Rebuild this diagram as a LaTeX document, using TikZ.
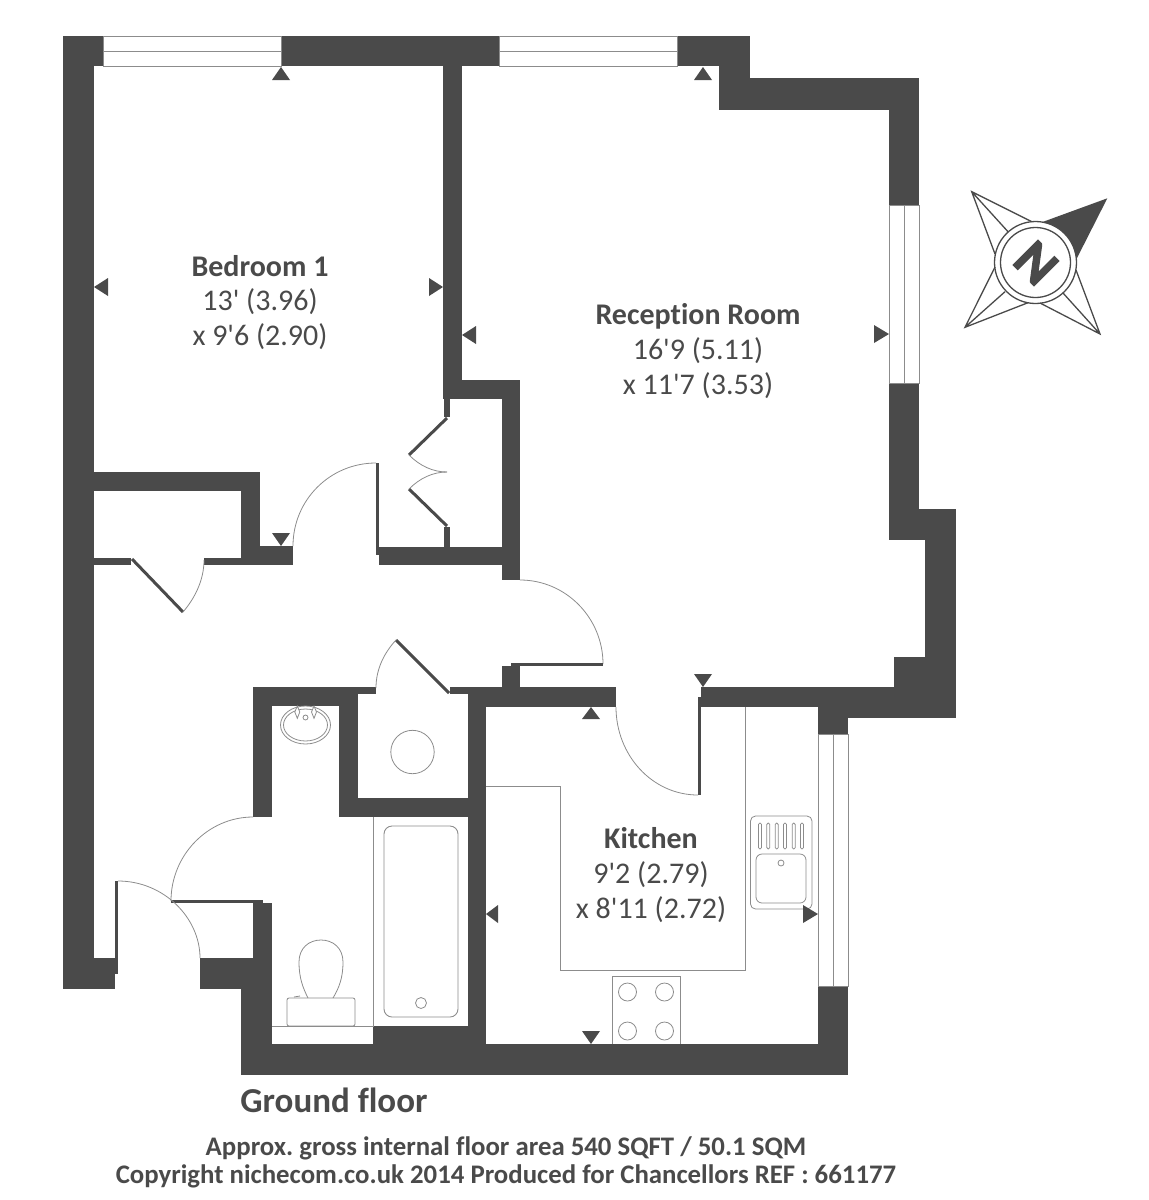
\documentclass[tikz,border=0pt]{standalone}
\usepackage{fontspec}
\newfontfamily\planfont[Ligatures=NoCommon,BoldFeatures={FakeBold=0}]{Carlito}
\newfontfamily\northfont[BoldFeatures={FakeBold=2.5}]{Carlito}
\frenchspacing
\definecolor{walldark}{HTML}{4A4A4A}
\definecolor{fitline}{HTML}{8C8C8C}
\begin{document}
\begin{tikzpicture}[x=1pt,y=-1pt]
\tikzstyle{every node}=[inner sep=0pt,text=walldark,font=\planfont,anchor=base]
\tikzstyle{wall}=[fill=walldark]
\tikzstyle{fit}=[draw=fitline,line width=0.9pt]
\tikzstyle{swing}=[draw=fitline,line width=0.8pt]
\tikzstyle{leaf}=[draw=walldark,line width=3pt]
\tikzstyle{compass}=[draw=walldark,line width=1.3pt]
\tikzstyle{roomname}=[font=\planfont\fontsize{30}{30}\selectfont\bfseries]
\tikzstyle{roomsize}=[font=\planfont\fontsize{30}{30}\selectfont]
\tikzstyle{foot}=[font=\planfont\fontsize{26.8}{26.8}\selectfont\bfseries]
\useasboundingbox (0,0) rectangle (1149,1200);
% outer walls
\fill[wall] (63,36) rectangle (94,989);
\fill[wall] (63,36) rectangle (103,66);
\fill[wall] (281,36) rectangle (499,66);
\fill[wall] (677,36) rectangle (750,66);
\fill[wall] (719,66) rectangle (750,110);
\fill[wall] (750,78) rectangle (919,110);
\fill[wall] (889,110) rectangle (919,205);
\fill[wall] (889,383) rectangle (919,540);
\fill[wall] (919,509) rectangle (956,540);
\fill[wall] (925,540) rectangle (956,718);
\fill[wall] (894,657) rectangle (925,690);
\fill[wall] (701,687) rectangle (818,707);
\fill[wall] (818,687) rectangle (925,718);
\fill[wall] (818,718) rectangle (848,734);
\fill[wall] (818,986) rectangle (848,1075);
\fill[wall] (241,1044) rectangle (848,1075);
\fill[wall] (94,958) rectangle (115,989);
\fill[wall] (200,958) rectangle (272,989);
\fill[wall] (241,989) rectangle (272,1044);
% inner walls
\fill[wall] (443,66) rectangle (462,399);
\fill[wall] (462,380) rectangle (520,399);
\fill[wall] (444,399) rectangle (450,417);
\fill[wall] (444,527) rectangle (450,547);
\fill[wall] (379,547) rectangle (520,565);
\fill[wall] (502,399) rectangle (520,580);
\fill[wall] (376,463) rectangle (379,555);
\fill[wall] (94,472) rectangle (260,491);
\fill[wall] (241,491) rectangle (260,558);
\fill[wall] (260,546) rectangle (293,565);
\fill[wall] (94,558) rectangle (131,565);
\fill[wall] (204,558) rectangle (260,565);
\fill[wall] (502,666) rectangle (520,688);
\fill[wall] (450,687) rectangle (616,694);
\fill[wall] (468,694) rectangle (616,707);
\fill[wall] (468,707) rectangle (486,1044);
\fill[wall] (253,687) rectangle (376,694);
\fill[wall] (253,694) rectangle (358,706);
\fill[wall] (253,706) rectangle (272,817);
\fill[wall] (339,706) rectangle (358,817);
\fill[wall] (358,798) rectangle (468,817);
\fill[wall] (253,903) rectangle (272,958);
\fill[wall] (373,1026) rectangle (468,1044);
% windows
\draw[fit] (103,36) rectangle (281,66) (103,51) -- (281,51);
\draw[fit] (499,36) rectangle (677,66) (499,51) -- (677,51);
\draw[fit] (889,205) rectangle (919,383) (904,205) -- (904,383);
\draw[fit] (818,734) rectangle (848,986) (833.5,734) -- (833.5,986);
% doors
\draw[leaf] (132,559) -- (183,612);
\draw[swing] (183,612) .. controls (195,598) and (204,580) .. (204,560);
\draw[swing] (293,546) .. controls (293,500) and (330,463) .. (376,463);
\draw[leaf] (447,418) -- (409,455);
\draw[leaf] (447,526) -- (409,489);
\draw[swing] (409,455) .. controls (420,466) and (433,472) .. (447,472);
\draw[swing] (409,489) .. controls (420,478) and (433,472) .. (447,472);
\draw[swing] (520,580) .. controls (566,580) and (603,618) .. (603,664);
\draw[leaf] (511,664.5) -- (603,664.5);
\draw[leaf] (396,640) -- (449,693);
\draw[swing] (396,640) .. controls (385,652) and (376,668) .. (376,688);
\draw[leaf] (699.5,697) -- (699.5,795);
\draw[swing] (616,707) .. controls (616,755) and (652,795) .. (698,795);
\draw[leaf] (171,901.5) -- (263,901.5);
\draw[swing] (253,817) .. controls (208,817) and (171,855) .. (171,901);
\draw[leaf] (116.5,881) -- (116.5,974);
\draw[swing] (118,881) .. controls (164,881) and (200,918) .. (200,958);
% bathroom
\draw[swing] (305.5,725) ellipse [x radius=25,y radius=19];
\draw[swing] (305.5,725) ellipse [x radius=22,y radius=16];
\draw[swing] (305.5,717.5) circle [radius=2.5];
\draw[swing,fill=white] (297.3,706) -- (299.8,712) -- (297.3,718.3) -- (294.8,712) -- cycle;
\draw[swing,fill=white] (314,706) -- (316.5,712) -- (314,718.3) -- (311.5,712) -- cycle;
\draw[swing] (412.5,752) circle [radius=21.7];
\draw[fit] (373.5,817) -- (373.5,1026);
\draw[fit] (272,1026) -- (373.5,1026);
\draw[fit,rounded corners=8pt] (384,826) rectangle (458,1017);
\draw[swing] (421,1003) circle [radius=5.5];
\draw[swing] (308,998) .. controls (303,988) and (299,978) .. (299,962) .. controls (299,948) and (309,940) .. (321,940) .. controls (333,940) and (343,948) .. (343,962) .. controls (343,978) and (339,988) .. (333,998);
\draw[swing,rounded corners=2pt] (287,998) rectangle (355,1026);
\draw[swing] (294,997) -- (300,996);
% kitchen
\draw[fit] (486,786) -- (560,786) -- (560,970) -- (745,970) -- (745,707);
\draw[fit] (612,1044) -- (612,976) -- (680,976) -- (680,1044);
\draw[swing] (627.5,992) circle [radius=9];
\draw[swing] (664.5,992) circle [radius=9];
\draw[swing] (627.5,1031) circle [radius=9];
\draw[swing] (664.5,1031) circle [radius=9];
\draw[swing,rounded corners=5pt] (750.5,816) rectangle (812,909);
\draw[swing,rounded corners=6pt] (756,854) rectangle (806,903);
\draw[swing] (781,863) circle [radius=3];
\draw[swing,rounded corners=1.4pt] (758.5,823) rectangle (761.5,849);
\draw[swing,rounded corners=1.4pt] (766.8,823) rectangle (769.8,849);
\draw[swing,rounded corners=1.4pt] (775.2,823) rectangle (778.2,849);
\draw[swing,rounded corners=1.4pt] (783.5,823) rectangle (786.5,849);
\draw[swing,rounded corners=1.4pt] (792.2,823) rectangle (795.2,849);
\draw[swing,rounded corners=1.4pt] (800.5,823) rectangle (803.5,849);
% dimension marks
\fill[wall] (281,67) -- +(-9,13) -- +(9,13) -- cycle;
\fill[wall] (703,67) -- +(-9,13) -- +(9,13) -- cycle;
\fill[wall] (94,287) -- +(14,-9) -- +(14,9) -- cycle;
\fill[wall] (443,287) -- +(-14,-9) -- +(-14,9) -- cycle;
\fill[wall] (462,335) -- +(14,-9) -- +(14,9) -- cycle;
\fill[wall] (889,334) -- +(-15,-9) -- +(-15,9) -- cycle;
\fill[wall] (281,546) -- +(-9,-13) -- +(9,-13) -- cycle;
\fill[wall] (703,687) -- +(-9,-13) -- +(9,-13) -- cycle;
\fill[wall] (591,707) -- +(-9,12) -- +(9,12) -- cycle;
\fill[wall] (486,914) -- +(12,-9) -- +(12,9) -- cycle;
\fill[wall] (818,914) -- +(-15,-9) -- +(-15,9) -- cycle;
\fill[wall] (591,1044) -- +(-9,-13) -- +(9,-13) -- cycle;
% compass
\fill[wall] (1107.3,198.3) -- (1043.3,221.7) -- (1076,260) -- cycle;
\draw[compass,fill=white] (1035.5,262.5) circle [radius=41];
\draw[compass] (1035.5,262.5) circle [radius=35];
\draw[compass] (1031.7,221.7) -- (971.7,191.7) -- (995,254) (971.7,191.7) -- (1008,231.7);
\draw[compass] (995,267) -- (965,327.3) -- (1028,302.7) (965,327.3) -- (1005,291.7);
\draw[compass] (1040,303) -- (1100,334) -- (1076,270) (1100,334) -- (1063,293);
\node[anchor=center,rotate=-45,font=\northfont\fontsize{54}{54}\selectfont\bfseries] (north) at (1036,263) {N};
% labels
\node[roomname] (bed) at (260,276) {Bedroom 1};
\node[roomsize] (bedl) at (260,310) {13' (3.96)};
\node[roomsize] (bedw) at (260,345) {x 9'6 (2.90)};
\node[roomname] (rec) at (698,324) {Reception Room};
\node[roomsize] (recl) at (698,359) {16'9 (5.11)};
\node[roomsize] (recw) at (698,394) {x 11'7 (3.53)};
\node[roomname] (kit) at (651,848) {Kitchen};
\node[roomsize] (kitl) at (651,883) {9'2 (2.79)};
\node[roomsize] (kitw) at (651,918) {x 8'11 (2.72)};
\node[font=\planfont\fontsize{35}{35}\selectfont\bfseries] (floor) at (334,1112) {Ground floor};
\node[foot] (area) at (506,1155) {Approx. gross internal floor area 540 SQFT / 50.1 SQM};
\node[foot] (copy) at (506,1183) {Copyright nichecom.co.uk 2014 Produced for Chancellors REF : 661177};
\end{tikzpicture}
\end{document}
